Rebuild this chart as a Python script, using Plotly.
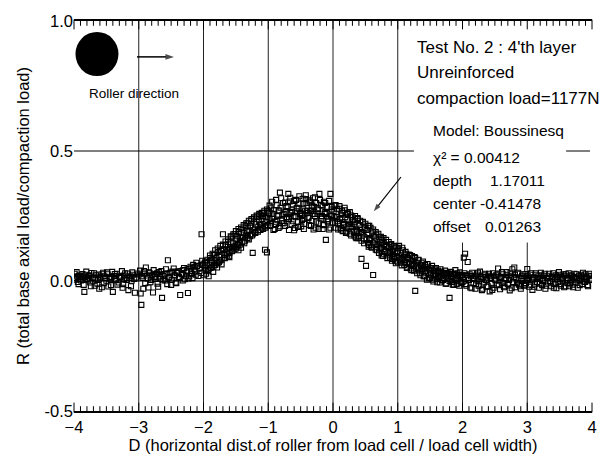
import plotly.graph_objects as go

FONT = "Liberation Sans, Arial, sans-serif"

# ---- measured points: normalized base load R vs. roller position D ----
# D in [-4, -3]
d_a = [-3.99, -3.97, -3.95, -3.93, -3.91, -3.89, -3.86, -3.84, -3.82, -3.80,
       -3.77, -3.75, -3.73, -3.70, -3.68, -3.66, -3.63, -3.61, -3.59, -3.56,
       -3.54, -3.52, -3.49, -3.47, -3.44, -3.42, -3.40, -3.37, -3.35, -3.33,
       -3.30, -3.28, -3.25, -3.23, -3.21, -3.18, -3.16, -3.13, -3.11, -3.09,
       -3.06, -3.04, -3.02]
r_a = [0.028, 0.005, 0.018, -0.012, 0.021, 0.002, 0.015, -0.042, 0.024, 0.008,
       0.019, -0.006, 0.031, 0.011, -0.018, 0.022, 0.004, -0.030, 0.017, 0.026,
       -0.008, 0.012, 0.033, -0.021, 0.009, 0.016, -0.042, 0.027, 0.003, -0.014,
       0.020, 0.014, -0.026, 0.006, 0.030, 0.011, -0.035, 0.018, 0.001, 0.024,
       -0.045, 0.013, 0.029]
d_a2 = [-3.98, -3.96, -3.94, -3.92, -3.90, -3.87, -3.85, -3.83, -3.81, -3.78,
        -3.76, -3.74, -3.71, -3.69, -3.67, -3.64, -3.62, -3.60, -3.57, -3.55,
        -3.53, -3.50, -3.48, -3.45, -3.43, -3.41, -3.38, -3.36, -3.34, -3.31,
        -3.29, -3.26, -3.24, -3.22, -3.19, -3.17, -3.14, -3.12, -3.10, -3.07]
r_a2 = [0.012, 0.034, -0.004, 0.020, 0.009, 0.027, -0.015, 0.016, 0.036, 0.003,
        0.022, -0.020, 0.014, 0.030, 0.006, -0.010, 0.025, 0.013, -0.024, 0.032,
        0.018, 0.001, 0.026, 0.010, -0.016, 0.035, 0.019, 0.007, 0.028, -0.006,
        0.015, 0.038, -0.012, 0.021, 0.004, 0.029, 0.012, -0.020, 0.033, 0.008]

# D in [-3, -2]
d_b = [-2.99, -2.97, -2.96, -2.94, -2.92, -2.90, -2.88, -2.85, -2.83, -2.81,
       -2.78, -2.76, -2.74, -2.71, -2.69, -2.66, -2.64, -2.62, -2.59, -2.57,
       -2.55, -2.53, -2.50, -2.48, -2.45, -2.43, -2.41, -2.38, -2.36, -2.33,
       -2.31, -2.29, -2.26, -2.24, -2.22, -2.19, -2.17, -2.15, -2.12, -2.10,
       -2.08, -2.05, -2.03, -2.01]
r_b = [0.025, -0.048, -0.092, 0.012, 0.038, -0.008, 0.021, -0.025, 0.030, 0.004,
       -0.044, 0.016, 0.027, -0.010, 0.034, 0.008, -0.065, 0.019, 0.002, 0.029,
       0.080, 0.013, -0.015, 0.036, 0.022, -0.006, 0.031, 0.015, -0.054, 0.026,
       0.042, 0.007, 0.033, -0.046, 0.018, 0.039, 0.011, 0.045, 0.024, 0.058,
       0.019, 0.047, 0.031, 0.062]
d_b2 = [-2.98, -2.95, -2.93, -2.91, -2.89, -2.86, -2.84, -2.82, -2.79, -2.77,
        -2.75, -2.72, -2.70, -2.67, -2.65, -2.63, -2.60, -2.58, -2.56, -2.54,
        -2.51, -2.49, -2.46, -2.44, -2.42, -2.39, -2.37, -2.34, -2.32, -2.30,
        -2.27, -2.25, -2.23, -2.20, -2.18, -2.16, -2.13, -2.11, -2.06, -2.02]
r_b2 = [0.040, 0.018, -0.030, 0.028, 0.052, 0.010, 0.033, -0.005, 0.020, 0.042,
        0.008, 0.030, -0.022, 0.017, 0.038, 0.003, 0.026, 0.045, -0.012, 0.014,
        0.032, 0.005, 0.048, 0.021, -0.008, 0.036, 0.012, 0.027, 0.002, 0.050,
        0.018, 0.040, 0.010, 0.055, 0.028, 0.062, 0.036, 0.070, 0.052, 0.078]

# D in [-2, -1]: rising flank
d_c = [-1.99, -1.97, -1.96, -1.94, -1.92, -1.90, -1.89, -1.87, -1.85, -1.84,
       -1.82, -1.80, -1.79, -1.77, -1.75, -1.74, -1.72, -1.70, -1.69, -1.67,
       -1.65, -1.64, -1.62, -1.60, -1.59, -1.57, -1.55, -1.54, -1.52, -1.50,
       -1.49, -1.47, -1.45, -1.44, -1.42, -1.40, -1.39, -1.37, -1.35, -1.34,
       -1.32, -1.30, -1.29, -1.27, -1.25, -1.24, -1.22, -1.20, -1.19, -1.17,
       -1.15, -1.14, -1.12, -1.10, -1.09, -1.07, -1.05, -1.04, -1.02, -1.00,
       -1.98, -1.93, -1.88, -1.83, -1.78, -1.73, -1.68, -1.63, -1.58, -1.53,
       -1.48, -1.43, -1.38, -1.33, -1.28, -1.23, -1.18, -1.13, -1.08, -1.03,
       -1.24, -1.05, -2.03, -1.61, -1.46]
r_c = [0.022, 0.075, 0.040, 0.060, 0.018, 0.088, 0.050, 0.072, 0.035, 0.100,
       0.062, 0.090, 0.052, 0.112, 0.078, 0.100, 0.064, 0.180, 0.122, 0.088,
       0.138, 0.105, 0.150, 0.092, 0.130, 0.168, 0.118, 0.145, 0.180, 0.125,
       0.160, 0.138, 0.188, 0.152, 0.128, 0.198, 0.170, 0.145, 0.210, 0.178,
       0.222, 0.160, 0.195, 0.232, 0.175, 0.205, 0.240, 0.188, 0.218, 0.248,
       0.196, 0.228, 0.255, 0.205, 0.238, 0.262, 0.210, 0.245, 0.110, 0.268,
       0.052, 0.042, 0.080, 0.078, 0.070, 0.118, 0.100, 0.122, 0.148, 0.132,
       0.172, 0.165, 0.185, 0.192, 0.210, 0.195, 0.228, 0.215, 0.250, 0.228,
       0.108, 0.120, 0.180, 0.095, 0.118]
d_c2 = [-1.98, -1.96, -1.94, -1.92, -1.90, -1.88, -1.86, -1.84, -1.82, -1.80,
        -1.78, -1.76, -1.74, -1.72, -1.70, -1.68, -1.66, -1.64, -1.62, -1.60,
        -1.58, -1.56, -1.54, -1.52, -1.50, -1.48, -1.46, -1.44, -1.42, -1.40,
        -1.38, -1.36, -1.34, -1.32, -1.30, -1.28, -1.26, -1.24, -1.22, -1.20,
        -1.18, -1.16, -1.14, -1.12, -1.10, -1.08, -1.06, -1.04, -1.02, -1.01]
r_c2 = [0.070, 0.028, 0.082, 0.045, 0.098, 0.052, 0.105, 0.060, 0.118, 0.068,
        0.125, 0.072, 0.135, 0.082, 0.140, 0.090, 0.152, 0.098, 0.160, 0.108,
        0.172, 0.115, 0.180, 0.122, 0.192, 0.132, 0.200, 0.140, 0.206, 0.150,
        0.215, 0.155, 0.222, 0.165, 0.232, 0.172, 0.238, 0.180, 0.245, 0.185,
        0.252, 0.190, 0.258, 0.196, 0.262, 0.200, 0.270, 0.205, 0.275, 0.215]

# D in [-1, 0]: crest
d_d = [-0.99, -0.97, -0.96, -0.94, -0.92, -0.91, -0.89, -0.87, -0.86, -0.84,
       -0.82, -0.81, -0.79, -0.77, -0.76, -0.74, -0.72, -0.71, -0.69, -0.67,
       -0.66, -0.64, -0.62, -0.61, -0.59, -0.57, -0.56, -0.54, -0.52, -0.51,
       -0.49, -0.47, -0.46, -0.44, -0.42, -0.41, -0.39, -0.37, -0.36, -0.34,
       -0.32, -0.31, -0.29, -0.27, -0.26, -0.24, -0.22, -0.21, -0.19, -0.17,
       -0.16, -0.14, -0.12, -0.11, -0.09, -0.07, -0.06, -0.04, -0.02, -0.01,
       -0.98, -0.93, -0.88, -0.83, -0.78, -0.73, -0.68, -0.63, -0.58, -0.53,
       -0.48, -0.43, -0.38, -0.33, -0.28, -0.23, -0.18, -0.13, -0.08, -0.03,
       -0.60, -0.45, -0.30, -0.15]
r_d = [0.262, 0.212, 0.280, 0.240, 0.196, 0.272, 0.228, 0.292, 0.250, 0.204,
       0.340, 0.282, 0.232, 0.300, 0.258, 0.212, 0.288, 0.246, 0.335, 0.306,
       0.262, 0.218, 0.295, 0.250, 0.204, 0.312, 0.268, 0.228, 0.298, 0.258,
       0.210, 0.316, 0.276, 0.240, 0.330, 0.300, 0.262, 0.215, 0.310, 0.270,
       0.232, 0.318, 0.285, 0.205, 0.300, 0.258, 0.222, 0.335, 0.292, 0.250,
       0.200, 0.305, 0.265, 0.158, 0.285, 0.238, 0.198, 0.335, 0.275, 0.225,
       0.238, 0.258, 0.218, 0.268, 0.222, 0.265, 0.238, 0.272, 0.245, 0.278,
       0.250, 0.270, 0.245, 0.282, 0.250, 0.275, 0.240, 0.258, 0.228, 0.252,
       0.195, 0.200, 0.198, 0.215]
d_d2 = [-0.98, -0.96, -0.94, -0.92, -0.90, -0.88, -0.86, -0.84, -0.82, -0.80,
        -0.78, -0.76, -0.74, -0.72, -0.70, -0.68, -0.66, -0.64, -0.62, -0.60,
        -0.58, -0.56, -0.54, -0.52, -0.50, -0.48, -0.46, -0.44, -0.42, -0.40,
        -0.38, -0.36, -0.34, -0.32, -0.30, -0.28, -0.26, -0.24, -0.22, -0.20,
        -0.18, -0.16, -0.14, -0.12, -0.10, -0.08, -0.06, -0.04, -0.02, -0.01]
r_d2 = [0.290, 0.225, 0.305, 0.248, 0.200, 0.312, 0.236, 0.272, 0.210, 0.318,
        0.255, 0.222, 0.302, 0.240, 0.285, 0.196, 0.320, 0.265, 0.230, 0.308,
        0.250, 0.282, 0.208, 0.326, 0.262, 0.235, 0.298, 0.220, 0.315, 0.270,
        0.242, 0.305, 0.212, 0.290, 0.258, 0.322, 0.228, 0.280, 0.200, 0.312,
        0.248, 0.290, 0.218, 0.300, 0.262, 0.232, 0.308, 0.205, 0.285, 0.250]

# D in [0, 1]: falling flank
d_e = [0.01, 0.03, 0.04, 0.06, 0.08, 0.09, 0.11, 0.13, 0.14, 0.16,
       0.18, 0.19, 0.21, 0.23, 0.24, 0.26, 0.28, 0.29, 0.31, 0.33,
       0.34, 0.36, 0.38, 0.39, 0.41, 0.43, 0.44, 0.46, 0.48, 0.49,
       0.51, 0.53, 0.54, 0.56, 0.58, 0.59, 0.61, 0.62, 0.64, 0.66,
       0.67, 0.69, 0.71, 0.72, 0.74, 0.76, 0.77, 0.79, 0.81, 0.82,
       0.84, 0.86, 0.87, 0.89, 0.91, 0.92, 0.94, 0.96, 0.97, 0.99,
       0.02, 0.07, 0.12, 0.17, 0.22, 0.27, 0.32, 0.37, 0.42, 0.47,
       0.52, 0.57, 0.63, 0.68, 0.73, 0.78, 0.83, 0.88, 0.93, 0.98,
       0.15, 0.35, 0.55, 0.75]
r_e = [0.268, 0.222, 0.292, 0.246, 0.198, 0.278, 0.238, 0.204, 0.270, 0.226,
       0.282, 0.245, 0.190, 0.260, 0.220, 0.182, 0.252, 0.210, 0.235, 0.175,
       0.228, 0.198, 0.242, 0.165, 0.215, 0.188, 0.085, 0.226, 0.160, 0.205,
       0.058, 0.182, 0.145, 0.212, 0.165, 0.132, 0.190, 0.023, 0.152, 0.120,
       0.178, 0.142, 0.108, 0.168, 0.128, 0.158, 0.096, 0.140, 0.114, 0.150,
       0.088, 0.126, 0.102, 0.140, 0.078, 0.116, 0.092, 0.130, 0.068, 0.108,
       0.245, 0.230, 0.255, 0.218, 0.235, 0.208, 0.220, 0.192, 0.202, 0.186,
       0.196, 0.162, 0.172, 0.130, 0.148, 0.122, 0.135, 0.112, 0.105, 0.094,
       0.192, 0.168, 0.132, 0.098]
d_e2 = [0.02, 0.04, 0.06, 0.08, 0.10, 0.12, 0.14, 0.16, 0.18, 0.20,
        0.22, 0.24, 0.26, 0.28, 0.30, 0.32, 0.34, 0.36, 0.38, 0.40,
        0.42, 0.44, 0.46, 0.48, 0.50, 0.52, 0.54, 0.56, 0.58, 0.60,
        0.62, 0.64, 0.66, 0.68, 0.70, 0.72, 0.74, 0.76, 0.78, 0.80,
        0.82, 0.84, 0.86, 0.88, 0.90, 0.92, 0.94, 0.96, 0.98, 1.00]
r_e2 = [0.290, 0.205, 0.278, 0.220, 0.288, 0.198, 0.262, 0.215, 0.272, 0.185,
        0.258, 0.202, 0.265, 0.175, 0.245, 0.188, 0.250, 0.165, 0.238, 0.172,
        0.232, 0.155, 0.228, 0.145, 0.220, 0.160, 0.212, 0.138, 0.205, 0.128,
        0.198, 0.140, 0.188, 0.118, 0.182, 0.125, 0.170, 0.105, 0.165, 0.112,
        0.158, 0.098, 0.150, 0.090, 0.142, 0.085, 0.135, 0.078, 0.128, 0.072]

# D in [1, 2]: toe of the curve
d_f = [1.01, 1.03, 1.04, 1.06, 1.08, 1.09, 1.11, 1.13, 1.14, 1.16,
       1.18, 1.19, 1.21, 1.23, 1.24, 1.26, 1.27, 1.29, 1.31, 1.32,
       1.34, 1.36, 1.37, 1.39, 1.41, 1.43, 1.44, 1.46, 1.48, 1.49,
       1.51, 1.53, 1.54, 1.56, 1.58, 1.59, 1.61, 1.63, 1.64, 1.66,
       1.68, 1.69, 1.71, 1.73, 1.74, 1.76, 1.78, 1.80, 1.81, 1.83,
       1.84, 1.86, 1.88, 1.89, 1.91, 1.93, 1.94, 1.96, 1.98, 1.99,
       1.02, 1.07, 1.12, 1.17, 1.22, 1.28, 1.33, 1.38, 1.42, 1.47,
       1.52, 1.57, 1.62, 1.67, 1.72, 1.77, 1.82, 1.87, 1.92, 1.97]
r_f = [0.125, 0.082, 0.108, 0.060, 0.118, 0.090, 0.072, 0.105, 0.050, 0.088,
       0.066, 0.100, 0.042, 0.078, 0.058, 0.092, -0.038, 0.068, 0.045, 0.082,
       0.030, 0.060, 0.040, 0.075, 0.018, 0.052, 0.032, 0.065, 0.010, 0.044,
       0.025, 0.058, 0.005, 0.038, 0.020, 0.050, -0.005, 0.032, 0.015, 0.045,
       0.002, 0.028, 0.012, 0.040, -0.010, 0.024, 0.008, -0.065, 0.035, 0.015,
       -0.004, 0.028, 0.010, 0.042, -0.012, 0.020, 0.006, 0.033, -0.008, 0.022,
       0.095, 0.085, 0.080, 0.072, 0.065, 0.055, 0.052, 0.046, 0.038, 0.030,
       0.032, 0.024, 0.020, 0.018, 0.025, 0.014, 0.020, -0.015, 0.012, 0.018]
d_f2 = [1.02, 1.05, 1.07, 1.10, 1.12, 1.15, 1.17, 1.20, 1.22, 1.25,
        1.27, 1.30, 1.32, 1.35, 1.37, 1.40, 1.42, 1.45, 1.47, 1.50,
        1.52, 1.55, 1.57, 1.60, 1.62, 1.65, 1.67, 1.70, 1.72, 1.75,
        1.77, 1.80, 1.82, 1.85, 1.87, 1.90, 1.92, 1.95, 1.97, 2.00]
r_f2 = [0.135, 0.070, 0.128, 0.062, 0.112, 0.055, 0.102, 0.048, 0.096, 0.040,
        0.088, 0.030, 0.080, 0.022, 0.070, 0.018, 0.062, 0.005, 0.055, 0.012,
        0.050, -0.002, 0.045, 0.008, 0.040, -0.006, 0.036, 0.004, 0.032, -0.010,
        0.030, 0.000, 0.034, -0.014, 0.026, 0.002, 0.030, -0.018, 0.024, -0.004]

# D in [2, 3]
d_g = [2.01, 2.02, 2.04, 2.05, 2.07, 2.08, 2.10, 2.12, 2.13, 2.15,
       2.17, 2.18, 2.20, 2.22, 2.23, 2.25, 2.27, 2.28, 2.30, 2.32,
       2.33, 2.35, 2.37, 2.38, 2.40, 2.42, 2.43, 2.45, 2.47, 2.48,
       2.50, 2.52, 2.53, 2.55, 2.57, 2.58, 2.60, 2.62, 2.63, 2.65,
       2.67, 2.68, 2.70, 2.72, 2.73, 2.75, 2.77, 2.78, 2.80, 2.82,
       2.83, 2.85, 2.87, 2.88, 2.90, 2.92, 2.93, 2.95, 2.97, 2.98]
r_g = [0.015, 0.090, 0.105, -0.012, 0.022, 0.073, 0.004, -0.025, 0.018, 0.032,
       -0.008, 0.010, -0.030, 0.025, 0.002, -0.018, 0.036, 0.008, -0.035, 0.015,
       -0.006, 0.028, -0.022, 0.005, 0.020, -0.040, 0.012, -0.010, 0.030, -0.026,
       0.006, 0.022, -0.015, 0.048, 0.002, -0.032, 0.016, -0.008, 0.026, -0.020,
       0.010, 0.034, -0.012, 0.004, -0.036, 0.018, 0.045, -0.004, 0.052, -0.024,
       0.012, 0.028, -0.014, 0.006, -0.030, 0.020, 0.000, -0.018, 0.026, -0.008]
d_g2 = [2.03, 2.06, 2.09, 2.11, 2.14, 2.16, 2.19, 2.21, 2.24, 2.26,
        2.29, 2.31, 2.34, 2.36, 2.39, 2.41, 2.44, 2.46, 2.49, 2.51,
        2.54, 2.56, 2.59, 2.61, 2.64, 2.66, 2.69, 2.71, 2.74, 2.76,
        2.79, 2.81, 2.84, 2.86, 2.89, 2.91, 2.94, 2.96, 2.99, 2.995]
r_g2 = [0.030, -0.018, 0.012, 0.026, -0.028, 0.008, 0.020, -0.012, 0.032, -0.002,
        0.016, -0.030, 0.024, 0.004, -0.020, 0.028, 0.010, -0.034, 0.018, 0.002,
        0.026, -0.016, 0.012, 0.034, -0.024, 0.006, 0.022, -0.010, 0.030, -0.028,
        0.014, 0.024, -0.008, 0.032, -0.020, 0.010, 0.026, -0.014, 0.018, 0.004]

# D in [3, 4]
d_h = [3.00, 3.02, 3.03, 3.05, 3.07, 3.08, 3.10, 3.12, 3.13, 3.15,
       3.17, 3.18, 3.20, 3.22, 3.23, 3.25, 3.27, 3.28, 3.30, 3.32,
       3.33, 3.35, 3.37, 3.38, 3.40, 3.42, 3.43, 3.45, 3.47, 3.48,
       3.50, 3.52, 3.53, 3.55, 3.57, 3.58, 3.60, 3.62, 3.63, 3.65,
       3.67, 3.68, 3.70, 3.72, 3.73, 3.75, 3.77, 3.78, 3.80, 3.82,
       3.83, 3.85, 3.87, 3.88, 3.90, 3.92, 3.93, 3.95, 3.97, 3.99]
r_h = [0.046, 0.010, -0.022, 0.024, 0.002, -0.034, 0.014, -0.010, 0.030, -0.004,
       0.018, -0.026, 0.008, 0.022, -0.016, 0.004, 0.028, -0.030, 0.012, -0.006,
       0.020, 0.000, -0.020, 0.016, 0.030, -0.012, 0.006, -0.028, 0.018, -0.004,
       0.024, -0.018, 0.010, 0.002, -0.024, 0.020, 0.026, -0.008, 0.012, -0.020,
       0.004, 0.022, -0.014, 0.016, 0.028, -0.006, 0.010, -0.026, 0.018, 0.002,
       0.024, -0.012, 0.014, -0.002, 0.026, 0.008, -0.016, 0.020, 0.004, 0.018]
d_h2 = [3.01, 3.04, 3.06, 3.09, 3.11, 3.14, 3.16, 3.19, 3.21, 3.24,
        3.26, 3.29, 3.31, 3.34, 3.36, 3.39, 3.41, 3.44, 3.46, 3.49,
        3.51, 3.54, 3.56, 3.59, 3.61, 3.64, 3.66, 3.69, 3.71, 3.74,
        3.76, 3.79, 3.81, 3.84, 3.86, 3.89, 3.91, 3.94, 3.96, 3.98]
r_h2 = [0.018, -0.014, 0.030, 0.006, -0.022, 0.024, 0.010, -0.010, 0.032, 0.000,
        0.020, -0.018, 0.012, 0.028, -0.006, 0.016, -0.026, 0.022, 0.008, 0.034,
        -0.012, 0.014, 0.026, -0.020, 0.004, 0.030, -0.008, 0.018, -0.024, 0.010,
        0.026, 0.002, -0.016, 0.020, 0.032, -0.004, 0.014, -0.020, 0.028, 0.006]

# ---- Boussinesq fit (depth 1.17011, center -0.41478, offset 0.01263) ----
fit_d = [-4.0, -3.5, -3.0, -2.5, -2.25, -2.0, -1.75, -1.5, -1.25, -1.0, -0.75,
         -0.5, -0.41, -0.25, 0.0, 0.25, 0.5, 0.75, 1.0, 1.25, 1.5, 1.75, 2.0,
         2.5, 3.0, 3.5, 4.0]
fit_r = [0.019, 0.021, 0.026, 0.040, 0.055, 0.075, 0.108, 0.148, 0.190, 0.226, 0.250,
         0.261, 0.262, 0.259, 0.243, 0.218, 0.180, 0.138, 0.100, 0.070, 0.050, 0.038, 0.031,
         0.024, 0.021, 0.019, 0.018]

# ---- roller direction arrow and pointer to the fitted curve ----
roller_arrow_d = [-3.027, -2.456]
roller_arrow_r = [0.862, 0.862]
pointer_d = [1.05, 0.63]
pointer_r = [0.40, 0.268]

# ---- axes ----
X_RANGE = [-4, 4]
Y_RANGE = [-0.5, 1.0]
MARGIN = dict(l=74, r=14, t=21, b=52)
WIDTH, HEIGHT = 606, 463
y_ticks = [-0.5, 0.0, 0.5, 1.0]
y_tick_text = ["-0.5", "0.0", "0.5", "1.0"]
grid_x_full = [-3, -2, -1, 0, 1]
grid_x_low = [2, 3]          # these stop below the parameter box
grid_x_low_top = 0.148
MINOR_LEN, MAJOR_LEN = 4, 7  # inward tick lengths in px

segments = [(d_a, r_a), (d_a2, r_a2), (d_b, r_b), (d_b2, r_b2),
            (d_c, r_c), (d_c2, r_c2), (d_d, r_d), (d_d2, r_d2),
            (d_e, r_e), (d_e2, r_e2), (d_f, r_f), (d_f2, r_f2),
            (d_g, r_g), (d_g2, r_g2), (d_h, r_h), (d_h2, r_h2)]
d_all, r_all = [], []
for d, r in segments:
    n = min(len(d), len(r))
    d_all += d[:n]
    r_all += r[:n]

fig = go.Figure()
fig.add_trace(go.Scatter(
    x=d_all, y=r_all, mode="markers",
    marker=dict(symbol="square-open", size=5, color="black",
                line=dict(width=1.1, color="black")),
    hoverinfo="skip"))
fig.add_trace(go.Scatter(
    x=fit_d, y=fit_r, mode="lines",
    line=dict(color="black", width=1.6, shape="spline"),
    hoverinfo="skip"))
for ad, ar, w, s in [(roller_arrow_d, roller_arrow_r, 1.5, 9),
                     (pointer_d, pointer_r, 1.2, 8)]:
    fig.add_trace(go.Scatter(
        x=ad, y=ar, mode="lines+markers",
        line=dict(color="black", width=w),
        marker=dict(symbol="arrow", size=[0, s], angleref="previous",
                    color="black", line=dict(width=0)),
        hoverinfo="skip"))

# inward tick marks along the top and bottom frame lines (every 0.1, longer at integers)
units_per_px = (Y_RANGE[1] - Y_RANGE[0]) / (HEIGHT - MARGIN["t"] - MARGIN["b"])
tick_pos = [X_RANGE[0] + i / 10 for i in range(int((X_RANGE[1] - X_RANGE[0]) * 10) + 1)]
for length, sel in [(MINOR_LEN, lambda p: abs(p - round(p)) > 1e-6),
                    (MAJOR_LEN, lambda p: abs(p - round(p)) <= 1e-6)]:
    xs = [p for p in tick_pos if sel(p)]
    half = length / 2 * units_per_px
    for edge, sign in [(Y_RANGE[1], -1), (Y_RANGE[0], 1)]:
        fig.add_trace(go.Scatter(
            x=xs, y=[edge + sign * half] * len(xs), mode="markers",
            marker=dict(symbol="line-ns", size=length,
                        line=dict(width=1, color="black")),
            cliponaxis=False, hoverinfo="skip"))

grid_style = dict(color="#222222", width=1)
shapes = []
for gx in grid_x_full:
    shapes.append(dict(type="line", xref="x", yref="y", x0=gx, x1=gx,
                       y0=Y_RANGE[0], y1=Y_RANGE[1], line=grid_style, layer="below"))
for gx in grid_x_low:
    shapes.append(dict(type="line", xref="x", yref="y", x0=gx, x1=gx,
                       y0=Y_RANGE[0], y1=grid_x_low_top, line=grid_style, layer="below"))
shapes.append(dict(type="line", xref="x", yref="y", x0=-4, x1=4, y0=0, y1=0,
                   line=dict(color="black", width=1), layer="below"))
shapes.append(dict(type="line", xref="x", yref="y", x0=-4, x1=1.25, y0=0.5, y1=0.5,
                   line=dict(color="black", width=1), layer="below"))
shapes.append(dict(type="line", xref="x", yref="y", x0=3.6, x1=3.97, y0=0.5, y1=0.5,
                   line=dict(color="black", width=1), layer="below"))
# roller
shapes.append(dict(type="circle", xref="x", yref="y", x0=-3.977, x1=-3.313,
                   y0=0.788, y1=0.958, fillcolor="black", line=dict(width=0)))

fig.update_layout(
    width=WIDTH, height=HEIGHT,
    margin=MARGIN,
    paper_bgcolor="white", plot_bgcolor="white",
    showlegend=False,
    font=dict(family=FONT, color="black", size=16),
    shapes=shapes,
    xaxis=dict(
        range=X_RANGE, tickmode="linear", tick0=-4, dtick=1,
        ticks="", showline=True, linecolor="black", linewidth=1.5, mirror=True,
        showgrid=False, zeroline=False,
        tickfont=dict(size=16.5),
        title=dict(text="D (horizontal dist.of roller from load cell / load cell width)",
                   font=dict(size=16.5), standoff=4),
        automargin=False),
    yaxis=dict(
        range=Y_RANGE, tickmode="array", tickvals=y_ticks, ticktext=y_tick_text,
        ticks="", showline=False, showgrid=False, zeroline=False,
        tickfont=dict(size=16.5),
        title=dict(text="R (total base axial load/compaction load)",
                   font=dict(size=16.5), standoff=10),
        automargin=False),
)


def label(text, px, py, size, xanchor="left"):
    fig.add_annotation(text=text, x=px, y=py, xref="paper", yref="paper",
                       xanchor=xanchor, yanchor="middle", showarrow=False,
                       font=dict(size=size, family=FONT, color="black"))


label("Roller direction", 0.116, 0.815, 13.5, xanchor="center")
label("Test No. 2 : 4'th layer", 0.658, 0.933, 17)
label("Unreinforced", 0.658, 0.867, 17)
label("compaction load=1177N", 0.658, 0.800, 17)
label("Model: Boussinesq", 0.689, 0.720, 15.5)
label("χ² = 0.00412", 0.689, 0.651, 15.5)
label("depth", 0.689, 0.592, 15.5)
label("1.17011", 0.799, 0.592, 15.5)
label("center", 0.689, 0.533, 15.5)
label("-0.41478", 0.780, 0.533, 15.5)
label("offset", 0.689, 0.474, 15.5)
label("0.01263", 0.790, 0.474, 15.5)

fig.write_html("out.html")
